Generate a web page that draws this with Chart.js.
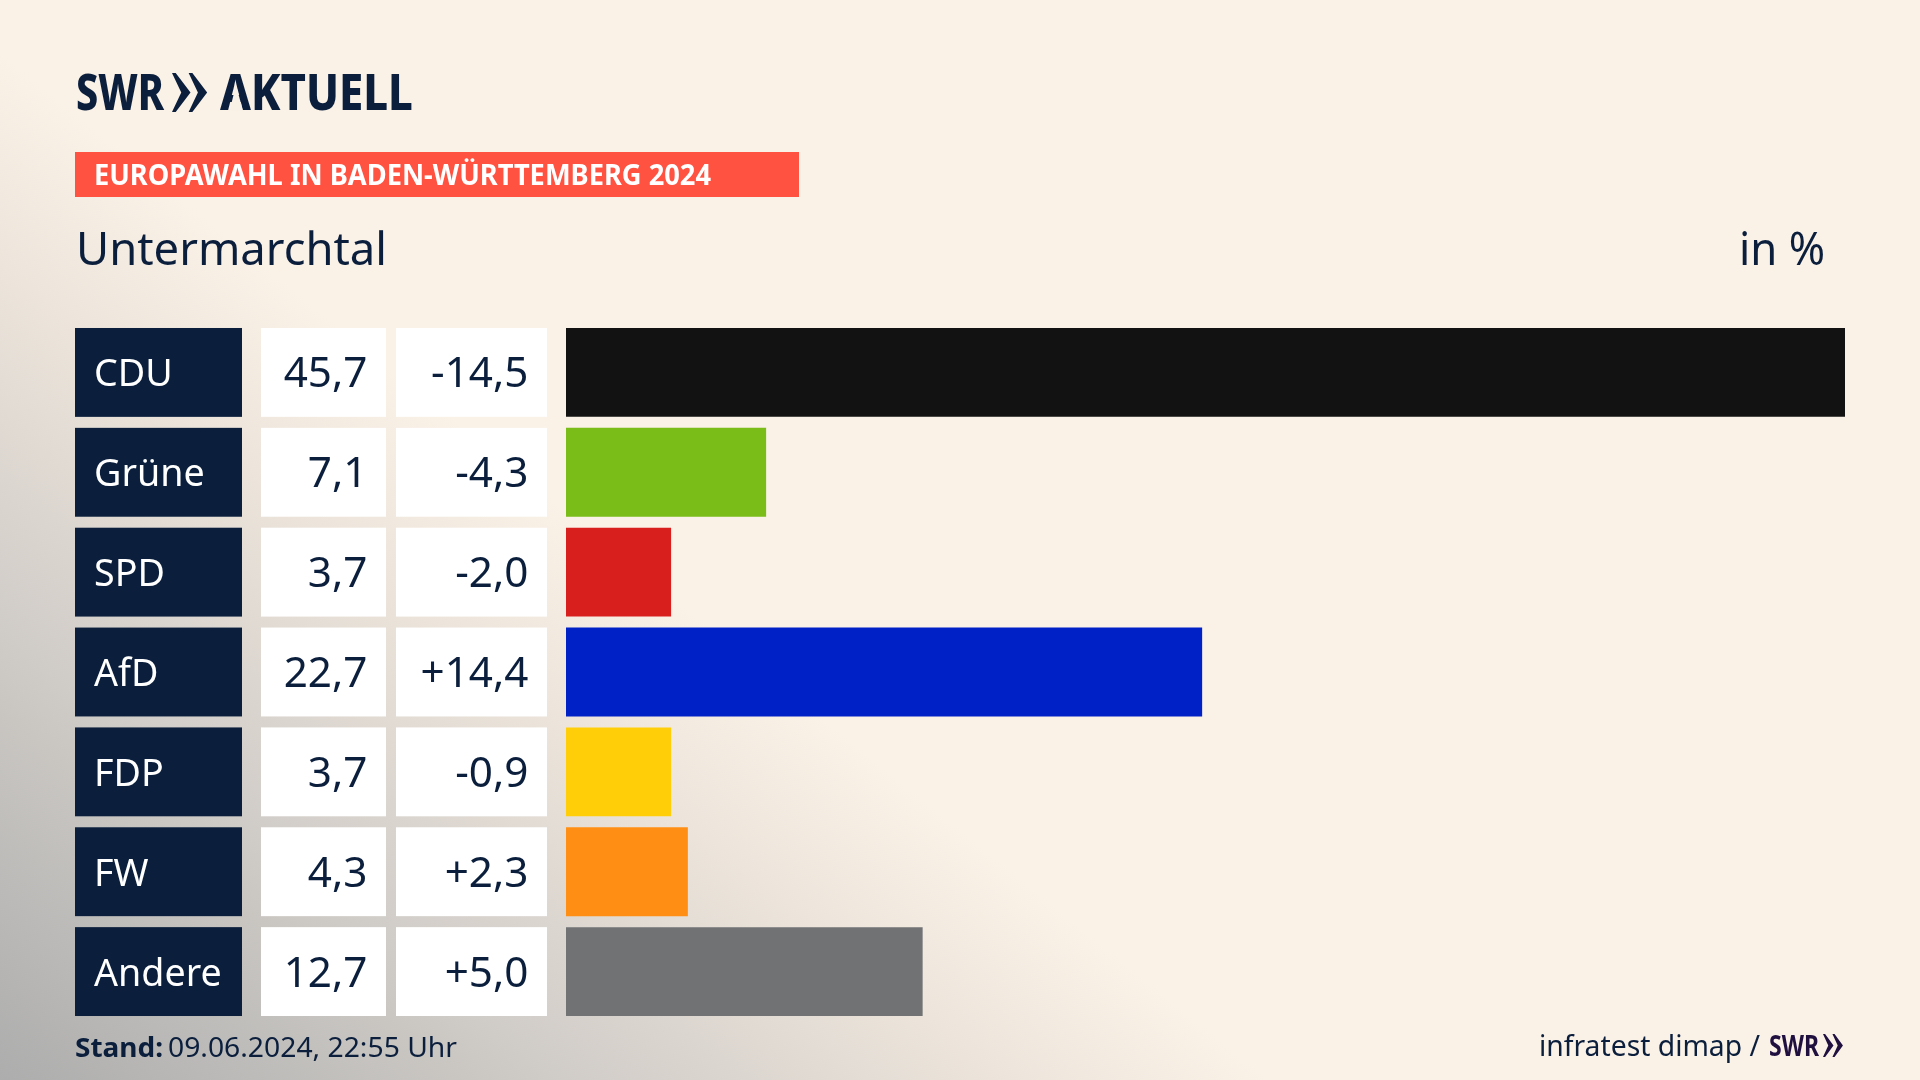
<!DOCTYPE html>
<html>
<head>
<meta charset="utf-8">
<script src="https://cdn.jsdelivr.net/npm/chart.js"></script>
<style>
  html, body { margin: 0; padding: 0; }
  body {
    width: 1920px;
    height: 1080px;
    overflow: hidden;
    background: linear-gradient(39deg, #adadad 0, #c9c6c2 14%, #dcd6d0 23%, #ede5db 31%, #faf1e7 39%) #faf1e7;
  }
  canvas { display: block; }
</style>
</head>
<body>
<canvas id="chart" width="1920" height="1080"></canvas>
<script>
const parties = ['CDU', 'Grüne', 'SPD', 'AfD', 'FDP', 'FW', 'Andere'];
const shares = [45.7, 7.1, 3.7, 22.7, 3.7, 4.3, 12.7];
const changes = [-14.5, -4.3, -2.0, 14.4, -0.9, 2.3, 5.0];
const barColors = ['#121212', '#7abd19', '#d91f1e', '#0021c5', '#ffce09', '#ff8f14', '#717274'];

const navy = '#0b1f3d';
const fontName = '"Noto Sans"';
const axisStart = -0.06; // bars in the reference start a hair before zero

function comma(v) {
  return v.toFixed(1).replace('.', ',');
}

function signed(v) {
  return (v > 0 ? '+' : '') + comma(v);
}

// squeeze or stretch a text so it spans the same width as in the reference
function fitText(ctx, text, x, y, font, color, width, align) {
  ctx.save();
  ctx.font = font;
  ctx.fillStyle = color;
  ctx.textBaseline = 'alphabetic';
  ctx.textAlign = 'left';
  const natural = ctx.measureText(text).width;
  const sx = width ? width / natural : 1;
  const left = align === 'right' ? x - natural * sx : x;
  ctx.translate(left, y);
  ctx.scale(sx, 1);
  ctx.fillText(text, 0, 0);
  ctx.restore();
}

function chevrons(ctx, x, top, bottom, w, color) {
  const mid = (top + bottom) / 2;
  ctx.fillStyle = color;
  [0, w * 0.9].forEach(off => {
    ctx.beginPath();
    ctx.moveTo(x + off, top);
    ctx.lineTo(x + off + w * 0.2, top);
    ctx.lineTo(x + off + w, mid);
    ctx.lineTo(x + off + w * 0.2, bottom);
    ctx.lineTo(x + off, bottom);
    ctx.lineTo(x + off + w * 0.5, mid);
    ctx.closePath();
    ctx.fill();
  });
}

const tablePlugin = {
  id: 'table',
  afterDatasetsDraw(chart) {
    const ctx = chart.ctx;
    const yScale = chart.scales.y;
    const barH = chart.getDatasetMeta(0).data[0].height;

    parties.forEach((party, i) => {
      const cy = yScale.getPixelForValue(i);
      const top = cy - barH / 2;
      ctx.fillStyle = navy;
      ctx.fillRect(75, top, 167, barH);
      ctx.fillStyle = '#ffffff';
      ctx.fillRect(261, top, 125, barH);
      ctx.fillRect(396, top, 151, barH);

      const labelFont = '38px ' + fontName;
      const valueFont = '41px ' + fontName;
      const sx = 1.03;
      ctx.font = labelFont;
      fitText(ctx, party, 94, cy + 14, labelFont, '#ffffff', ctx.measureText(party).width * 0.99);
      ctx.font = valueFont;
      const a = comma(shares[i]);
      const b = signed(changes[i]);
      fitText(ctx, a, 367.5, cy + 15, valueFont, navy, ctx.measureText(a).width * sx, 'right');
      fitText(ctx, b, 528.5, cy + 15, valueFont, navy, ctx.measureText(b).width * sx, 'right');
    });

    // header
    fitText(ctx, 'SWR', 76, 110, '800 50px ' + fontName, navy, 88);
    chevrons(ctx, 172, 73, 112, 18.5, navy);
    fitText(ctx, 'AKTUELL', 220, 110, '800 50px ' + fontName, navy, 193);
    // the logo's A has no crossbar
    ctx.fillStyle = '#f9f0e6';
    ctx.beginPath();
    ctx.moveTo(236, 85);
    ctx.lineTo(243, 111);
    ctx.lineTo(229.5, 111);
    ctx.closePath();
    ctx.fill();

    ctx.fillStyle = '#ff5240';
    ctx.fillRect(75, 152, 724, 45);
    fitText(ctx, 'EUROPAWAHL IN BADEN-WÜRTTEMBERG 2024', 94, 185, 'bold 28px ' + fontName, '#ffffff', 617);

    fitText(ctx, 'Untermarchtal', 76, 265, '45px ' + fontName, navy, 311);
    fitText(ctx, 'in %', 1739, 265, '45px ' + fontName, navy, 86);

    // footer
    fitText(ctx, 'Stand:', 75, 1057, 'bold 27px ' + fontName, navy, 88);
    fitText(ctx, '09.06.2024, 22:55 Uhr', 168, 1057, '27px ' + fontName, navy, 289);
    fitText(ctx, 'infratest dimap /', 1539, 1056, '29px ' + fontName, navy, 221);
    fitText(ctx, 'SWR', 1769, 1056, 'bold 28px ' + fontName, '#1f1040', 50);
    chevrons(ctx, 1823, 1034, 1057, 10.5, '#1f1040');
  }
};

new Chart(document.getElementById('chart').getContext('2d'), {
  type: 'bar',
  data: {
    labels: parties,
    datasets: [{
      data: shares,
      base: axisStart,
      backgroundColor: barColors,
      borderWidth: 0,
      categoryPercentage: 0.89,
      barPercentage: 1
    }]
  },
  options: {
    indexAxis: 'y',
    responsive: false,
    animation: false,
    layout: { padding: { left: 566, right: 75, top: 322.5, bottom: 58.5 } },
    scales: {
      x: { display: false, min: axisStart, max: 45.7 },
      y: { display: false }
    },
    plugins: {
      legend: { display: false },
      tooltip: { enabled: false }
    }
  },
  plugins: [tablePlugin]
});
</script>
</body>
</html>
